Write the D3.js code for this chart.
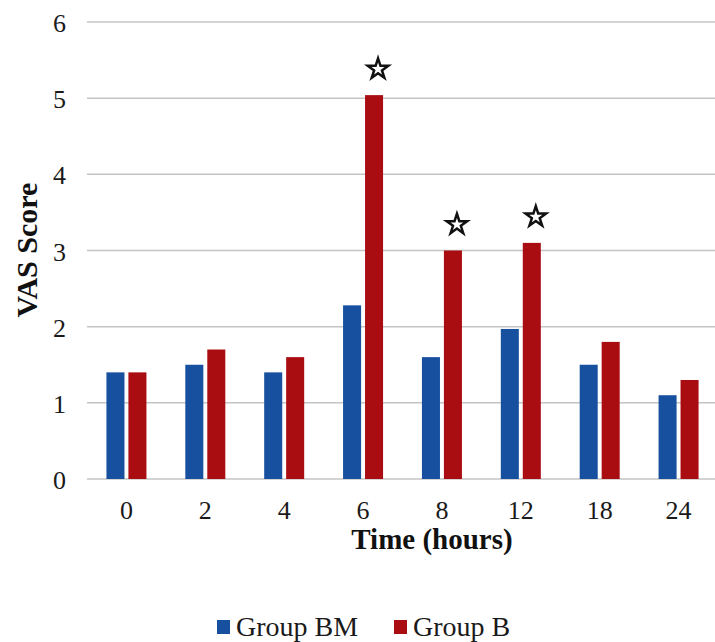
<!DOCTYPE html>
<html>
<head>
<meta charset="utf-8">
<script src="https://cdn.jsdelivr.net/npm/d3@7"></script>
<style>
  body { margin: 0; background: #fff; }
</style>
</head>
<body>
<div id="chart"></div>
<script>
// Data
const times = ["0", "2", "4", "6", "8", "12", "18", "24"];
const groupBM = [1.4, 1.5, 1.4, 2.28, 1.6, 1.97, 1.5, 1.1];
const groupB = [1.4, 1.7, 1.6, 5.04, 3.0, 3.1, 1.8, 1.3];
const significant = ["6", "8", "12"];
const seriesNames = ["Group BM", "Group B"];
const yTicks = [0, 1, 2, 3, 4, 5, 6];

const W = 715, H = 642;
const plot = {left: 87, right: 718, top: 22, bottom: 479};
const serif = "'Liberation Serif', 'DejaVu Serif', serif";

const svg = d3.select("#chart").append("svg")
    .attr("width", W)
    .attr("height", H)
    .style("font-family", serif);

// Scales
const y = d3.scaleLinear()
    .domain([0, 6])
    .range([plot.bottom, plot.top]);

const x0 = d3.scaleBand()
    .domain(times)
    .range([plot.left, plot.right]);

const x1 = d3.scaleBand()
    .domain(seriesNames)
    .range([0, 40])
    .paddingInner(0.18);

const color = d3.scaleOrdinal()
    .domain(seriesNames)
    .range(["#17509f", "#a90d12"]);

// Gridlines
svg.append("g")
    .selectAll("line")
    .data(yTicks)
  .enter().append("line")
    .attr("x1", plot.left)
    .attr("x2", 715)
    .attr("y1", d => y(d))
    .attr("y2", d => y(d))
    .style("stroke", "#c4c4c4")
    .style("stroke-width", 1.5);

// Y tick labels
svg.append("g")
    .selectAll("text")
    .data(yTicks)
  .enter().append("text")
    .attr("x", 66)
    .attr("y", d => y(d) + 10)
    .attr("text-anchor", "end")
    .attr("font-family", serif)
    .style("font-size", "26px")
    .style("fill", "#1a1a1a")
    .text(d => d);

// Bars
const rows = times.map((t, i) => ({time: t, values: [groupBM[i], groupB[i]]}));
const off = (x0.bandwidth() - 40) / 2;

const groups = svg.append("g")
    .selectAll("g")
    .data(rows)
  .enter().append("g")
    .attr("transform", d => "translate(" + (x0(d.time) + off) + ",0)");

groups.selectAll("rect")
    .data(d => d.values.map((v, i) => ({name: seriesNames[i], value: v})))
  .enter().append("rect")
    .attr("x", d => x1(d.name))
    .attr("width", x1.bandwidth())
    .attr("y", d => y(d.value))
    .attr("height", d => y(0) - y(d.value))
    .style("fill", d => color(d.name));

// Significance stars
svg.append("g")
    .selectAll("path")
    .data(significant)
  .enter().append("path")
    .attr("d", d3.symbol().type(d3.symbolStar).size(130))
    .attr("transform", d => {
        const i = times.indexOf(d);
        const cx = x0(d) + off + x1("Group B") + x1.bandwidth() / 2 + 4;
        return "translate(" + cx + "," + (y(groupB[i]) - 26) + ")";
    })
    .style("fill", "#fff")
    .style("stroke", "#111")
    .style("stroke-width", 2.5);

// X tick labels
svg.append("g")
    .selectAll("text")
    .data(times)
  .enter().append("text")
    .attr("x", d => x0(d) + x0.bandwidth() / 2)
    .attr("y", 519)
    .attr("text-anchor", "middle")
    .attr("font-family", serif)
    .style("font-size", "26px")
    .style("fill", "#1a1a1a")
    .text(d => d);

// Axis titles
svg.append("text")
    .attr("x", 432)
    .attr("y", 549)
    .attr("text-anchor", "middle")
    .attr("font-family", serif)
    .style("font-size", "29px")
    .style("font-weight", "bold")
    .style("fill", "#111")
    .text("Time (hours)");

svg.append("text")
    .attr("transform", "translate(37,250) rotate(-90)")
    .attr("text-anchor", "middle")
    .attr("font-family", serif)
    .style("font-size", "30px")
    .style("font-weight", "bold")
    .style("fill", "#111")
    .text("VAS Score");

// Legend
const legendX = [217, 394];
const legend = svg.append("g")
    .selectAll("g")
    .data(seriesNames)
  .enter().append("g")
    .attr("transform", (d, i) => "translate(" + legendX[i] + ",620)");

legend.append("rect")
    .attr("width", 13)
    .attr("height", 14)
    .style("fill", color);

legend.append("text")
    .attr("x", 19)
    .attr("y", 16)
    .attr("font-family", serif)
    .style("font-size", "28px")
    .style("fill", "#1a1a1a")
    .text(d => d);
</script>
</body>
</html>
